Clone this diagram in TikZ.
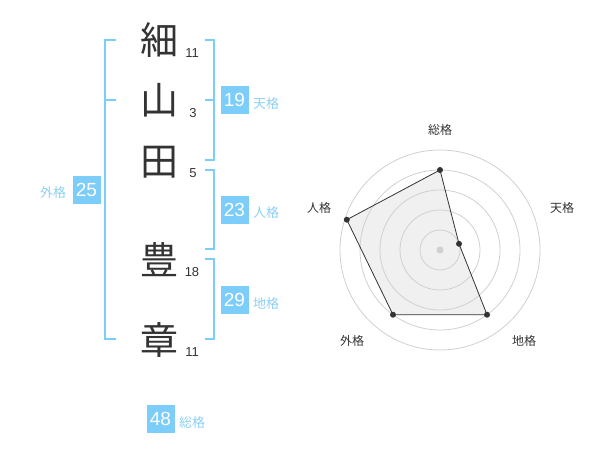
\documentclass[tikz,border=0pt]{standalone}
\usepackage{fontspec}
\setmainfont{Liberation Sans}
\newfontfamily\jpfont{Noto Sans CJK JP}
\usetikzlibrary{positioning}
\definecolor{kakublue}{RGB}{125,205,250}
\definecolor{kakutext}{RGB}{140,208,245}
\definecolor{inkgray}{RGB}{51,51,51}
\definecolor{ringgray}{RGB}{208,208,208}

\begin{document}
\begin{tikzpicture}[x=1pt,y=1pt]
\tikzstyle{every node}=[inner sep=0pt]
\tikzstyle{kanji}=[font=\jpfont\fontsize{38}{38}\selectfont, text=inkgray]
\tikzstyle{strokes}=[font=\fontsize{13}{13}\selectfont, text=inkgray]
\tikzstyle{kakubox}=[fill=kakublue, minimum width=28pt, minimum height=28pt,
text=white, font=\fontsize{19}{19}\selectfont]
\tikzstyle{kakulabel}=[font=\jpfont\fontsize{13}{13}\selectfont, text=kakutext]
\tikzstyle{bracket}=[draw=kakublue, line width=2pt]
\tikzstyle{ring}=[draw=ringgray, line width=0.8pt]
\tikzstyle{axislabel}=[font=\jpfont\fontsize{12}{12}\selectfont, text=inkgray]
\tikzstyle{dot}=[circle, fill=inkgray, minimum size=6pt]

\useasboundingbox (0,0) rectangle (600,-470);

% name, one character per row
\node[kanji] at (159,-40) (c1) {細};
\node[kanji] at (159,-100) (c2) {山};
\node[kanji] at (159,-162) (c3) {田};
\node[kanji] at (159,-260) (c4) {豊};
\node[kanji] at (159,-340) (c5) {章};

\node[strokes] at (192,-53) (s1) {11};
\node[strokes] at (193,-113) (s2) {3};
\node[strokes] at (193,-173) (s3) {5};
\node[strokes] at (192,-272) (s4) {18};
\node[strokes] at (192,-352) (s5) {11};

% brackets
\coordinate (gai_top) at (116,-40);
\coordinate (gai_mid) at (116,-100);
\coordinate (gai_bot) at (116,-339);
\coordinate (ten_top) at (205,-40);
\coordinate (ten_mid) at (205,-100);
\coordinate (ten_bot) at (205,-160);
\coordinate (jin_top) at (205,-170);
\coordinate (jin_bot) at (205,-249);
\coordinate (chi_top) at (205,-259);
\coordinate (chi_bot) at (205,-339);

\draw[bracket] (gai_top) -- ++(-11,0) |- (gai_bot);
\draw[bracket] (gai_mid) -- ++(-11,0);
\draw[bracket] (ten_top) -- ++(9,0) |- (ten_bot);
\draw[bracket] (ten_mid) -- ++(9,0);
\draw[bracket] (jin_top) -- ++(9,0) |- (jin_bot);
\draw[bracket] (chi_top) -- ++(9,0) |- (chi_bot);

% kakusu boxes
\node[kakubox] at (86.5,-190) (gai) {25};
\node[kakulabel] at (53,-193) (gai_l) {外格};
\node[kakubox] at (234.5,-100) (ten) {19};
\node[kakulabel] at (266,-104) (ten_l) {天格};
\node[kakubox] at (234.5,-210) (jin) {23};
\node[kakulabel] at (266,-213) (jin_l) {人格};
\node[kakubox] at (234.5,-300) (chi) {29};
\node[kakulabel] at (266,-304) (chi_l) {地格};
\node[kakubox] at (160.5,-419) (sou) {48};
\node[kakulabel] at (192,-423) (sou_l) {総格};

% radar chart
\node[axislabel] at (440,-130) (r_sou) {総格};
\node[axislabel] at (562,-208) (r_ten) {天格};
\node[axislabel] at (524,-341) (r_chi) {地格};
\node[axislabel] at (352,-341) (r_gai) {外格};
\node[axislabel] at (319,-208) (r_jin) {人格};

\begin{scope}[shift={(440,-250)}]
\coordinate (p_sou) at (90:80);
\coordinate (p_ten) at (18:20);
\coordinate (p_chi) at (-54:80);
\coordinate (p_gai) at (-126:80);
\coordinate (p_jin) at (162:98);

\fill[black!6] (p_sou) -- (p_ten) -- (p_chi) -- (p_gai) -- (p_jin) -- cycle;

\draw[ring] (0,0) circle[radius=20pt];
\draw[ring] (0,0) circle[radius=40pt];
\draw[ring] (0,0) circle[radius=60pt];
\draw[ring] (0,0) circle[radius=80pt];
\draw[ring] (0,0) circle[radius=100pt];
\fill[ringgray] (0,0) circle[radius=3.5pt];

\draw[inkgray, line width=0.8pt] (p_sou) -- (p_ten) -- (p_chi) -- (p_gai) -- (p_jin) -- cycle;

\node[dot] at (p_sou) (d_sou) {};
\node[dot] at (p_ten) (d_ten) {};
\node[dot] at (p_chi) (d_chi) {};
\node[dot] at (p_gai) (d_gai) {};
\node[dot] at (p_jin) (d_jin) {};
\end{scope}

\end{tikzpicture}
\end{document}
